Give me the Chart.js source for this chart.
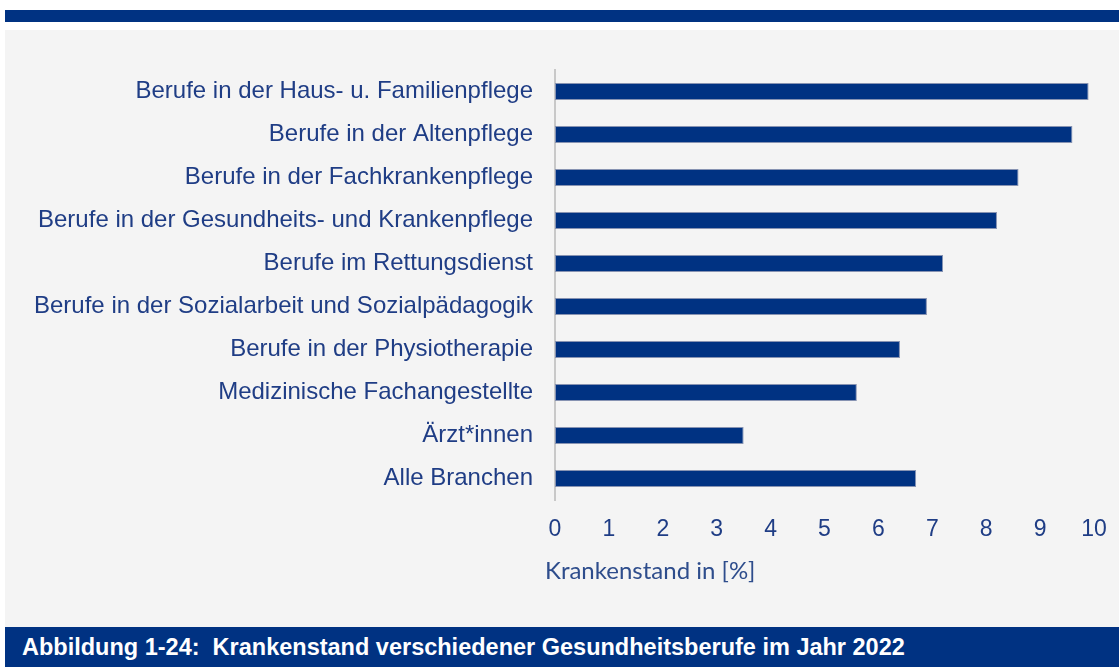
<!DOCTYPE html>
<html lang="de">
<head>
<meta charset="UTF-8">
<title>Krankenstand Gesundheitsberufe 2022</title>
<style>
    body {
        margin: 0;
        width: 1119px;
        height: 670px;
        background: #ffffff;
        overflow: hidden;
        font-family: "Liberation Sans", Arial, sans-serif;
    }
    .topbar {
        position: absolute;
        left: 5px; top: 10px;
        width: 1114px; height: 12px;
        background: #003282;
    }
    .panel {
        position: absolute;
        left: 5px; top: 30px;
        width: 1114px; height: 597px;
        background: #f4f4f4;
    }
    .axis-title {
        position: absolute;
        left: 545px; top: 555px;
        font-family: Lato, "Open Sans", sans-serif;
        font-size: 24px;
        line-height: 30px;
        color: #2e4d8c;
        white-space: nowrap;
    }
    .caption {
        position: absolute;
        left: 5px; top: 627px;
        width: 1097px; height: 40px;
        padding-left: 17px;
        background: #003282;
        color: #ffffff;
        font-weight: bold;
        font-size: 23.5px;
        line-height: 40px;
        white-space: nowrap;
    }
</style>
</head>
<body>
<div class="topbar"></div>
<div class="panel">
    <canvas id="chart"></canvas>
</div>
<div class="axis-title" id="xTitle"></div>
<div class="caption">Abbildung 1-24:&nbsp; Krankenstand verschiedener Gesundheitsberufe im Jahr 2022</div>

<script src="https://cdn.jsdelivr.net/npm/chart.js"></script>
<script>
// categories, top to bottom
const berufe = [
    'Berufe in der Haus- u. Familienpflege',
    'Berufe in der Altenpflege',
    'Berufe in der Fachkrankenpflege',
    'Berufe in der Gesundheits- und Krankenpflege',
    'Berufe im Rettungsdienst',
    'Berufe in der Sozialarbeit und Sozialpädagogik',
    'Berufe in der Physiotherapie',
    'Medizinische Fachangestellte',
    'Ärzt*innen',
    'Alle Branchen'
];
// Krankenstand in %
const krankenstand = [9.9, 9.6, 8.6, 8.2, 7.2, 6.9, 6.4, 5.6, 3.5, 6.7];
const xMin = 0;
const xMax = 10;
const xStep = 1;
const xTitle = 'Krankenstand in [%]';

const navy = '#003282';
const textBlue = '#1f3d85';

document.getElementById('xTitle').textContent = xTitle;

new Chart(document.getElementById('chart'), {
    type: 'bar',
    data: {
        labels: berufe,
        datasets: [{
            data: krankenstand,
            backgroundColor: navy,
            borderColor: '#8793b2',
            borderWidth: 1,
            borderSkipped: false,
            barPercentage: 0.4,
            categoryPercentage: 1
        }]
    },
    options: {
        indexAxis: 'y',
        responsive: true,
        maintainAspectRatio: false,
        animation: false,
        layout: {
            padding: { top: 40, right: 25, bottom: 27, left: 0 }
        },
        plugins: {
            legend: { display: false },
            tooltip: { enabled: false }
        },
        scales: {
            y: {
                grid: { display: false, drawTicks: false },
                border: { display: true, color: '#c8c8c8', width: 2 },
                ticks: {
                    color: textBlue,
                    padding: 22,
                    font: { family: '"Liberation Sans", Arial, sans-serif', size: 24 }
                },
                // fixed label column so the axis sits where it does in the original
                afterFit: function (scale) { scale.width = 550; }
            },
            x: {
                min: xMin,
                max: xMax,
                grid: { display: false, drawTicks: false },
                border: { display: false },
                ticks: {
                    stepSize: xStep,
                    color: textBlue,
                    padding: 16,
                    maxRotation: 0,
                    font: { family: '"Liberation Sans", Arial, sans-serif', size: 23 }
                },
                afterFit: function (scale) {
                    scale.height = 100;
                    scale.paddingLeft = 0;
                    scale.paddingRight = 0;
                }
            }
        }
    }
});
</script>
</body>
</html>
